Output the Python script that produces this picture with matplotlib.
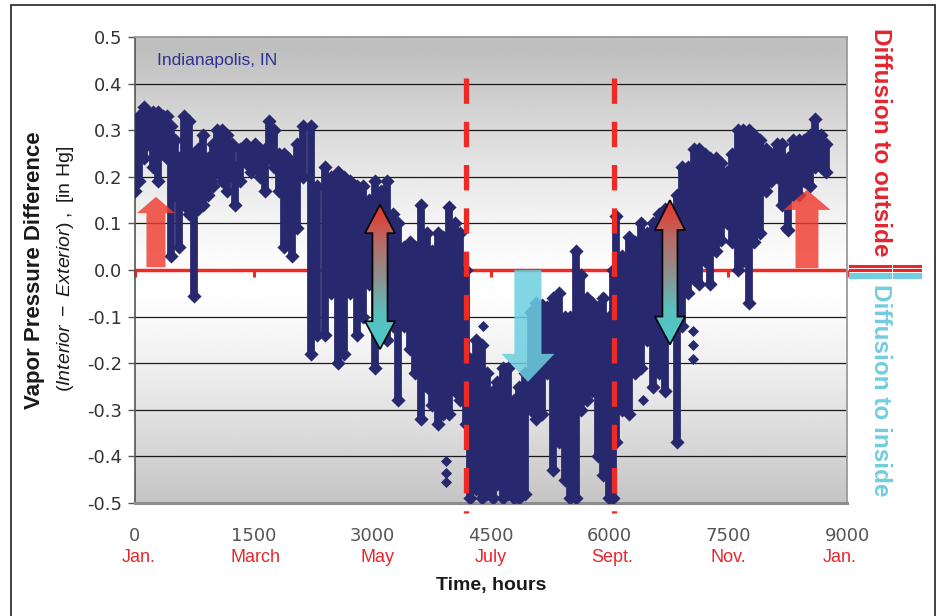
import numpy as np
import matplotlib
matplotlib.use("Agg")
import matplotlib.pyplot as plt
from matplotlib.patches import Polygon, Rectangle
from matplotlib.colors import LinearSegmentedColormap
from matplotlib.lines import Line2D

plt.rcParams['font.family'] = ['Liberation Sans', 'DejaVu Sans']
plt.rcParams['axes.unicode_minus'] = False
plt.rcParams['mathtext.fontset'] = 'custom'
plt.rcParams['mathtext.rm'] = 'Liberation Sans'
plt.rcParams['mathtext.it'] = 'Liberation Sans:italic'
plt.rcParams['mathtext.bf'] = 'Liberation Sans:bold'

# ---------------- data ----------------
# hourly vapour pressure difference, summarised as streaks: hour, upper value, lower value
hours = [0, 50, 110, 170, 230, 290, 350, 400, 450, 500, 560, 620, 680, 740, 800, 860,
         920, 980, 1040, 1100, 1160, 1220, 1270, 1330, 1400, 1460, 1520, 1580, 1640,
         1700, 1760, 1820, 1880, 1930, 1990, 2050, 2120, 2220, 2300, 2400, 2480, 2560,
         2640, 2720, 2800, 2880, 2960, 3040, 3110, 3180, 3260, 3330, 3400, 3470, 3540,
         3620, 3690, 3760, 3830, 3890, 3970, 4040, 4110, 4180, 4240, 4310, 4380, 4450,
         4520, 4580, 4650, 4720, 4790, 4860, 4930, 5000, 5070, 5140, 5210, 5290, 5360,
         5430, 5500, 5570, 5640, 5710, 5780, 5850, 5920, 5990, 6040, 6080, 6160, 6240,
         6320, 6400, 6470, 6550, 6620, 6700, 6850, 6920, 6990, 7060, 7130, 7200, 7270,
         7340, 7410, 7480, 7550, 7620, 7690, 7760, 7830, 7900, 7970, 8040, 8110, 8180,
         8250, 8320, 8390, 8460, 8530, 8600, 8670, 8740]
vp_top = [0.27, 0.33, 0.35, 0.34, 0.34, 0.34, 0.33, 0.33, 0.31, 0.28, 0.24, 0.33, 0.32,
          0.25, 0.26, 0.29, 0.24, 0.27, 0.30, 0.30, 0.29, 0.27, 0.22, 0.26, 0.27, 0.26,
          0.27, 0.26, 0.26, 0.32, 0.30, 0.25, 0.25, 0.24, 0.22, 0.27, 0.31, 0.31, 0.18,
          0.22, 0.20, 0.21, 0.20, 0.19, 0.18, 0.18, 0.15, 0.19, 0.17, 0.19, 0.12, 0.10,
          0.05, 0.06, 0.05, 0.14, 0.08, 0.04, 0.08, 0.07, 0.135, 0.10, 0.08, 0.00, -0.19,
          -0.15, -0.16, -0.22, -0.26, -0.24, -0.21, -0.21, -0.28, -0.25, -0.22, -0.09,
          -0.07, -0.075, -0.08, -0.06, -0.05, -0.10, -0.10, 0.04, -0.01, -0.06, -0.07,
          -0.08, -0.06, -0.10, 0.00, 0.115, 0.03, 0.07, 0.06, 0.10, 0.08, 0.10, 0.12,
          0.13, 0.16, 0.22, 0.22, 0.26, 0.26, 0.25, 0.24, 0.24, 0.23, 0.21, 0.25, 0.30,
          0.30, 0.30, 0.29, 0.28, 0.26, 0.25, 0.27, 0.27, 0.24, 0.28, 0.28, 0.28, 0.29,
          0.325, 0.29, 0.27]
vp_bottom = [0.17, 0.19, 0.24, 0.27, 0.22, 0.19, 0.25, 0.24, 0.03, 0.16, 0.05, 0.14, 0.12,
             -0.055, 0.13, 0.14, 0.16, 0.18, 0.21, 0.19, 0.17, 0.20, 0.14, 0.19, 0.23,
             0.21, 0.22, 0.20, 0.17, 0.24, 0.22, 0.17, 0.05, 0.06, 0.03, 0.09, 0.20,
             -0.18, -0.14, -0.14, -0.05, -0.20, -0.18, -0.05, -0.14, -0.10, -0.03, -0.21,
             -0.10, -0.15, -0.12, -0.28, -0.12, -0.17, -0.22, -0.32, -0.25, -0.29, -0.33,
             -0.31, -0.31, -0.26, -0.28, -0.33, -0.49, -0.47, -0.49, -0.48, -0.49, -0.46,
             -0.49, -0.48, -0.49, -0.49, -0.48, -0.30, -0.32, -0.31, -0.22, -0.43, -0.37,
             -0.45, -0.49, -0.49, -0.30, -0.28, -0.26, -0.40, -0.44, -0.49, -0.49, -0.37,
             -0.30, -0.31, -0.22, -0.21, -0.15, -0.25, -0.22, -0.26, -0.37, -0.12, -0.05,
             -0.02, -0.03, 0.02, -0.03, 0.04, 0.065, 0.10, 0.06, 0.00, 0.02, -0.07, 0.06,
             0.08, 0.17, 0.19, 0.20, 0.14, 0.085, 0.16, 0.16, 0.19, 0.18, 0.22, 0.22, 0.21]
# isolated readings
dot_hours = [3930, 3930, 3930, 4400, 6420, 7050, 7050, 7050, 8215, 7640, 7640]
dot_values = [-0.41, -0.435, -0.455, -0.12, -0.28, -0.13, -0.16, -0.19, 0.09, 0.036, 0.02]

xticks = [0, 1500, 3000, 4500, 6000, 7500, 9000]
xtick_labels = ['0', '1500', '3000', '4500', '6000', '7500', '9000']
month_hours = [40, 1520, 3060, 4500, 6030, 7500, 8910]
month_labels = ['Jan.', 'March', 'May', 'July', 'Sept.', 'Nov.', 'Jan.']
yticks = [-0.5, -0.4, -0.3, -0.2, -0.1, 0.0, 0.1, 0.2, 0.3, 0.4, 0.5]
ytick_labels = ['-0.5', '-0.4', '-0.3', '-0.2', '-0.1', '0.0', '0.1', '0.2', '0.3', '0.4', '0.5']
season_bounds = [4184, 6055]

NAVY = '#27286e'
RED = '#ee2a24'
BLUE = '#6ccfe0'

W, H = 939, 616
fig = plt.figure(figsize=(W / 100, H / 100), dpi=100)
ax = fig.add_axes([135 / W, 113 / H, 712 / W, 466 / H])
ax.set_xlim(0, 9000)
ax.set_ylim(-0.5, 0.5)

# background gradient
yy = np.linspace(-0.5, 0.5, 500)
lev = 1 - 0.25 * np.clip(np.abs(yy + 0.03) / 0.5, 0, 1) ** 1.3
ax.imshow(lev[:, None], extent=[0, 9000, -0.5, 0.5], aspect='auto', cmap='gray',
          vmin=0, vmax=1, origin='lower', zorder=0, interpolation='bilinear')

for v in yticks:
    if abs(v) > 1e-9 and abs(abs(v) - 0.5) > 1e-9:
        ax.axhline(v, color='#1a1a1a', lw=0.9, zorder=1)

# zero line with small ticks
ax.axhline(0, color=RED, lw=2.5, zorder=2)
ax.vlines(xticks, -0.014, 0, color=RED, lw=2.2, zorder=2, clip_on=False)

# data streaks
ax.vlines(hours, vp_bottom, vp_top, color=NAVY, lw=5.6, zorder=3)
ax.scatter(hours, vp_top, marker='D', s=52, color=NAVY, zorder=3, linewidths=0)
ax.scatter(hours, vp_bottom, marker='D', s=52, color=NAVY, zorder=3, linewidths=0)
ax.scatter(dot_hours, dot_values, marker='D', s=32, color=NAVY, zorder=3, linewidths=0)

# season dashed boundaries
for sb in season_bounds:
    ax.plot([sb, sb], [0.412, -0.521], color=RED, lw=3.8, dashes=(4.8, 3.4),
            solid_capstyle='butt', dash_capstyle='butt', zorder=4, clip_on=False)


def arrow_poly(c, shw, hhw, base, hbase, tip):
    return [(c - shw, base), (c - shw, hbase), (c - hhw, hbase), (c, tip),
            (c + hhw, hbase), (c + shw, hbase), (c + shw, base)]


ax.add_patch(Polygon(arrow_poly(265, 120, 240, 0.006, 0.122, 0.157), closed=True,
                     facecolor='#ee3b2f', alpha=0.82, edgecolor='none', zorder=5))
ax.add_patch(Polygon(arrow_poly(8494, 145, 297, 0.004, 0.129, 0.172), closed=True,
                     facecolor='#ee3b2f', alpha=0.82, edgecolor='none', zorder=5))
ax.add_patch(Polygon(arrow_poly(4967, 171, 335, 0.0, -0.18, -0.24), closed=True,
                     facecolor=BLUE, alpha=0.85, edgecolor='none', zorder=5))

gcmap = LinearSegmentedColormap.from_list('g', ['#4cc9c9', '#5bbfbf', '#8f8f8f', '#b86a66', '#ee3124'])


def double_arrow(c, shw, hhw, t1, b1, b2, t2):
    pts = [(c, t1), (c + hhw, b1), (c + shw, b1), (c + shw, b2), (c + hhw, b2), (c, t2),
           (c - hhw, b2), (c - shw, b2), (c - shw, b1), (c - hhw, b1)]
    poly = Polygon(pts, closed=True, facecolor='none', edgecolor='black', lw=1.2, zorder=7)
    ax.add_patch(poly)
    grad = np.linspace(0, 1, 200)[:, None]
    im = ax.imshow(grad, extent=[c - hhw, c + hhw, t2, t1], origin='lower', aspect='auto',
                   cmap=gcmap, zorder=6)
    im.set_clip_path(poly)


double_arrow(3097, 95, 190, 0.14, 0.079, -0.11, -0.17)
double_arrow(6762, 95, 190, 0.15, 0.086, -0.10, -0.16)
ax.set_xlim(0, 9000)
ax.set_ylim(-0.5, 0.5)

# axes styling
for s in ['top', 'right']:
    ax.spines[s].set_color('#9a9a9a')
    ax.spines[s].set_linewidth(1.3)
ax.spines['bottom'].set_color('#8c8c8c')
ax.spines['bottom'].set_linewidth(2.2)
ax.spines['left'].set_color('#555555')
ax.spines['left'].set_linewidth(1.2)

ax.set_yticks(yticks)
ax.set_yticklabels(ytick_labels)
ax.set_xticks(xticks)
ax.set_xticklabels(xtick_labels)
ax.tick_params(axis='y', direction='out', length=5, color='#555555', width=1,
               labelsize=13, labelcolor='#333333', pad=4)
ax.tick_params(axis='x', length=0, labelsize=13, labelcolor='#555555', pad=17)
for lab in ax.get_xticklabels() + ax.get_yticklabels():
    lab.set_fontfamily('DejaVu Sans')

for mh, ml in zip(month_hours, month_labels):
    ax.text(mh, -0.616, ml, ha='center', va='center', color='#e8262c', fontsize=13,
            clip_on=False)
ax.text(4500, -0.676, 'Time, hours', ha='center', va='center', fontsize=14,
        fontweight='bold', color='#1a1a1a', clip_on=False)
ax.text(278, 0.45, 'Indianapolis, IN', ha='left', va='center', fontsize=12.5,
        color='#2e3192')

fig.text(35 / W, 1 - 270 / H, 'Vapor Pressure Difference', rotation=90, ha='center',
         va='center', fontsize=16, fontweight='bold', color='#1a1a1a')
fig.text(66 / W, 1 - 269 / H,
         r'$\mathrm{(}\mathit{Interior\ -\ Exterior}\mathrm{)\ ,\ [in\ Hg]}$',
         rotation=90, ha='center', va='center', fontsize=14, color='#1a1a1a')

fig.text(880 / W, 1 - 142.5 / H, 'Diffusion to outside', rotation=-90, ha='center',
         va='center', fontsize=17.5, fontweight='bold', color='#e3262f')
fig.text(880 / W, 1 - 390 / H, 'Diffusion to inside', rotation=-90, ha='center',
         va='center', fontsize=17.5, fontweight='bold', color='#72cde0')

for yp, col in [(266, '#e8262c'), (269.5, '#e8262c'), (273.5, '#72cde0'), (277, '#72cde0')]:
    for x0, x1 in [(850, 890), (894, 920)]:
        fig.add_artist(Line2D([x0 / W, x1 / W], [1 - yp / H, 1 - yp / H], color=col, lw=2.2))

fig.add_artist(Rectangle((11 / W, -0.02), (935 - 11) / W, 1.02 - 5 / H, fill=False,
                         edgecolor='#333333', lw=1.3, transform=fig.transFigure))

fig.savefig('out.png', dpi=100)
